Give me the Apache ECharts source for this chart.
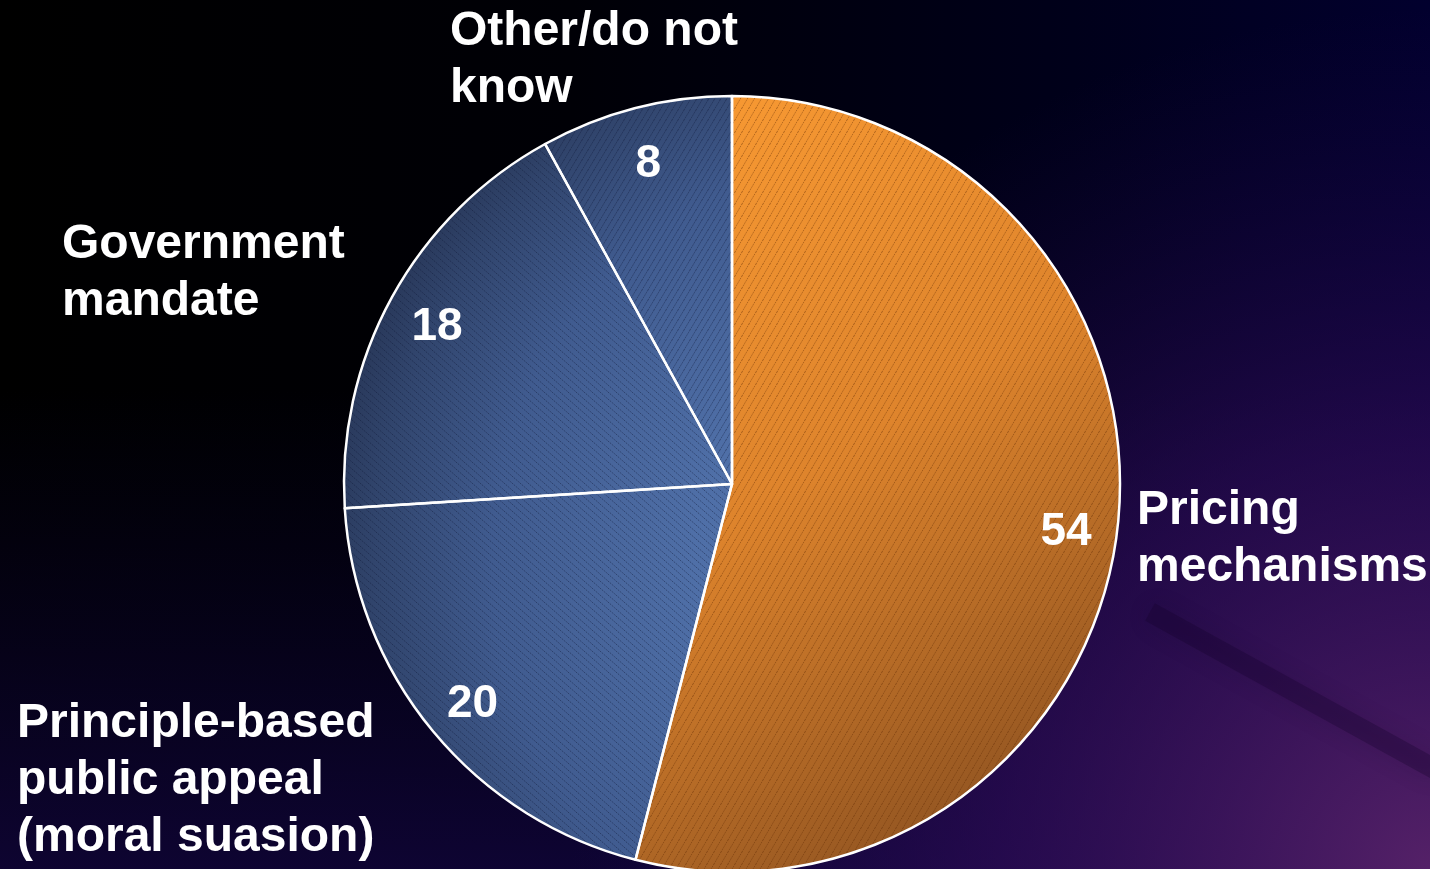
<!DOCTYPE html>
<html>
<head>
<meta charset="utf-8">
<script src="https://cdn.jsdelivr.net/npm/echarts@6/dist/echarts.min.js"></script>
<style>
  html, body { margin: 0; padding: 0; background: #000; }
  #chart { width: 1430px; height: 869px; }
</style>
</head>
<body>
<div id="chart"></div>
<script>
// Survey answers, clockwise from 12 o'clock
const categories = [
  'Pricing\nmechanisms',
  'Principle-based\npublic appeal\n(moral suasion)',
  'Government\nmandate',
  'Other/do not\nknow'
];
const values = [54, 20, 18, 8];

// Pie geometry (px)
const CX = 732, CY = 484, R = 388;

// Top-left corner of each category caption block (px)
const captionAnchors = [
  [1137, 482],
  [17, 695],
  [62, 216],
  [450, 3]
];

const FONT = "'Liberation Sans', Arial, Helvetica, sans-serif";

// Small repeating tile with one thin dotted diagonal line
function hatchTile(w, h, rising, color) {
  const c = document.createElement('canvas');
  c.width = w; c.height = h;
  const ctx = c.getContext('2d');
  ctx.strokeStyle = color;
  ctx.lineWidth = 1;
  ctx.setLineDash([1.5, 1]);
  for (const ox of [-w, 0, w]) {
    ctx.beginPath();
    if (rising) { ctx.moveTo(ox, h); ctx.lineTo(ox + w, 0); }
    else { ctx.moveTo(ox, 0); ctx.lineTo(ox + w, h); }
    ctx.stroke();
  }
  return c;
}

const orangeHatch = { image: hatchTile(7, 12, true, 'rgba(95,45,5,0.45)'), repeat: 'repeat' };
const blueHatchFall = { image: hatchTile(8, 7, false, 'rgba(15,25,55,0.45)'), repeat: 'repeat' };
const blueHatchRise = { image: hatchTile(6, 10, true, 'rgba(15,25,55,0.45)'), repeat: 'repeat' };
const hatches = [orangeHatch, blueHatchFall, blueHatchFall, blueHatchRise];

const orangeFill = {
  type: 'linear', x: 0, y: 0, x2: 1, y2: 1,
  colorStops: [
    { offset: 0, color: '#FA9B33' },
    { offset: 0.45, color: '#DE842C' },
    { offset: 1, color: '#7A461E' }
  ]
};
const blueFill = {
  type: 'radial', global: true,
  x: CX + 0.43 * R, y: CY + 0.2 * R, r: 1.5 * R,
  colorStops: [
    { offset: 0, color: '#5676AE' },
    { offset: 0.35, color: '#4F6FA7' },
    { offset: 0.7, color: '#405B8F' },
    { offset: 0.9, color: '#31456D' },
    { offset: 1, color: '#283758' }
  ]
};
const fills = [orangeFill, blueFill, blueFill, blueFill];

const chart = echarts.init(document.getElementById('chart'), null, { renderer: 'canvas' });

chart.setOption({
  animation: false,
  backgroundColor: 'transparent',
  graphic: [
    {
      type: 'rect', z: -30, silent: true,
      shape: { x: 0, y: 0, width: 1430, height: 869 },
      style: {
        fill: {
          type: 'linear', x: 0, y: 0, x2: 1, y2: 0,
          colorStops: [
            { offset: 0, color: '#000000' },
            { offset: 0.4, color: '#000006' },
            { offset: 0.75, color: '#00001A' },
            { offset: 1, color: '#02002E' }
          ]
        }
      }
    },
    {
      type: 'rect', z: -29, silent: true,
      shape: { x: 0, y: 0, width: 1430, height: 869 },
      style: {
        fill: {
          type: 'linear', x: 0, y: 0, x2: 0, y2: 1,
          colorStops: [
            { offset: 0, color: 'rgba(10,4,55,0)' },
            { offset: 0.45, color: 'rgba(10,4,55,0)' },
            { offset: 1, color: 'rgba(20,6,70,0.7)' }
          ]
        }
      }
    },
    {
      type: 'rect', z: -28, silent: true,
      shape: { x: 0, y: 0, width: 1430, height: 869 },
      style: {
        fill: {
          type: 'radial', global: true, x: 1430, y: 869, r: 860,
          colorStops: [
            { offset: 0, color: 'rgba(92,36,108,0.9)' },
            { offset: 0.5, color: 'rgba(52,14,92,0.6)' },
            { offset: 1, color: 'rgba(30,8,75,0)' }
          ]
        }
      }
    },
    {
      // faint dark streak across the lower right backdrop
      type: 'line', z: -27, silent: true,
      shape: { x1: 1150, y1: 612, x2: 1440, y2: 772 },
      style: {
        stroke: 'rgba(18,0,40,0.28)', lineWidth: 20,
        shadowBlur: 22, shadowColor: 'rgba(18,0,40,0.5)'
      }
    }
  ],
  series: [
    {
      // shaded slices with captions
      type: 'pie',
      center: [CX, CY],
      radius: R,
      startAngle: 90,
      clockwise: true,
      silent: true,
      z: 1,
      itemStyle: { borderWidth: 0 },
      label: {
        show: true,
        position: 'inside',
        formatter: '{b}',
        color: '#ffffff',
        fontFamily: FONT,
        fontSize: 48,
        fontWeight: 'bold',
        lineHeight: 57,
        align: 'left'
      },
      labelLine: { show: false },
      labelLayout: function (p) {
        const a = captionAnchors[p.dataIndex];
        return { x: a[0], y: a[1], align: 'left', verticalAlign: 'top' };
      },
      data: categories.map((name, i) => ({
        name: name,
        value: values[i],
        itemStyle: { color: fills[i] }
      }))
    },
    {
      // hatch texture and white slice outlines
      type: 'pie',
      center: [CX, CY],
      radius: R,
      startAngle: 90,
      clockwise: true,
      silent: true,
      z: 2,
      label: { show: false },
      labelLine: { show: false },
      itemStyle: { borderColor: '#ffffff', borderWidth: 2.5 },
      data: categories.map((name, i) => ({
        name: name,
        value: values[i],
        itemStyle: { color: hatches[i] }
      }))
    },
    {
      // value labels placed near the rim
      type: 'pie',
      center: [CX, CY],
      radius: [R * 0.72, R],
      startAngle: 90,
      clockwise: true,
      silent: true,
      z: 3,
      itemStyle: { color: 'rgba(0,0,0,0)', borderWidth: 0 },
      label: {
        show: true,
        position: 'inside',
        formatter: '{c}',
        color: '#ffffff',
        fontFamily: FONT,
        fontSize: 46,
        fontWeight: 'bold'
      },
      labelLine: { show: false },
      labelLayout: { dy: 6 },
      data: categories.map((name, i) => ({ name: name, value: values[i] }))
    }
  ]
});
</script>
</body>
</html>
